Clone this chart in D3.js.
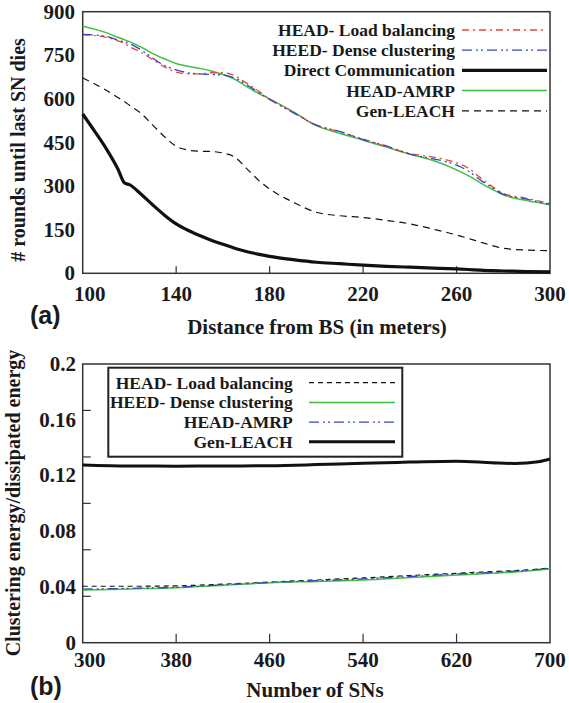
<!DOCTYPE html>
<html>
<head>
<meta charset="utf-8">
<script src="https://cdn.jsdelivr.net/npm/d3@7"></script>
</head>
<body style="margin:0">
<script>
// DATA - TOP CHART (a)
const distance = [100, 105, 110, 115, 118, 120, 125, 130, 135, 140, 145, 150, 155, 160, 165, 170, 175, 180, 190, 200, 210, 220, 230, 240, 250, 260, 265, 270, 275, 280, 290, 300];
const headLoad = [820, 818, 812, 800, 790, 780, 760, 735, 710, 692, 686, 686, 690, 690, 680, 655, 628, 600, 555, 510, 486, 462, 436, 412, 400, 380, 362, 330, 300, 275, 258, 240];
const heedDense = [822, 820, 815, 803, 795, 790, 768, 740, 715, 700, 690, 686, 684, 682, 672, 650, 624, 598, 553, 510, 488, 460, 438, 410, 394, 372, 352, 322, 296, 272, 255, 237];
const direct = [548, 490, 430, 360, 310, 305, 272, 235, 200, 170, 148, 130, 114, 100, 86, 75, 66, 58, 47, 38, 33, 28, 24, 21, 18, 15, 13, 11, 9, 8, 6, 5];
const headAmrp = [850, 840, 828, 812, 803, 797, 778, 756, 738, 722, 712, 705, 696, 684, 668, 643, 620, 600, 556, 508, 482, 458, 434, 410, 388, 356, 336, 312, 290, 270, 250, 236];
const genLeach = [672, 652, 630, 605, 590, 578, 550, 510, 470, 437, 424, 420, 419, 414, 400, 362, 322, 290, 245, 210, 198, 192, 182, 170, 152, 132, 120, 108, 96, 86, 80, 78];
const yTicksA = [0, 150, 300, 450, 600, 750, 900];
const xTicksA = [100, 140, 180, 220, 260, 300];

// DATA - BOTTOM CHART (b)
const nodes = [300, 340, 380, 420, 460, 500, 540, 580, 620, 650, 670, 690, 700];
const bLoad = [0.0405, 0.0405, 0.0408, 0.042, 0.0435, 0.045, 0.0465, 0.0482, 0.0498, 0.051, 0.0518, 0.0528, 0.0535];
const bDense = [0.0378, 0.0386, 0.0395, 0.0412, 0.043, 0.044, 0.045, 0.0468, 0.0485, 0.0498, 0.0507, 0.0522, 0.053];
const bAmrp = [0.0385, 0.039, 0.0398, 0.0415, 0.0432, 0.0445, 0.0458, 0.0475, 0.0493, 0.0505, 0.0514, 0.0526, 0.0533];
const bLeach = [0.1275, 0.1268, 0.1267, 0.1268, 0.127, 0.1278, 0.1288, 0.1296, 0.1303, 0.1292, 0.1286, 0.1298, 0.1318];
const yTicksB = [0, 0.04, 0.08, 0.12, 0.16, 0.2];
const yMarksB = [0.0333, 0.0667, 0.1, 0.1333, 0.1667];
const xTicksB = [300, 380, 460, 540, 620, 700];

const svg = d3.select("body").append("svg")
    .attr("width", 569)
    .attr("height", 703);

//COLORS
const RED = "#e8443c";
const BLUE = "#3646b8";
const GREEN = "#3fbf3f";
const BLACK = "#111";

// every label: bold serif, same as the figure
const label = (g, x, y, txt, size, anchor) => g.append("text")
    .attr("x", x).attr("y", y)
    .attr("text-anchor", anchor)
    .attr("font-family", "Liberation Serif")
    .attr("font-weight", "bold")
    .attr("font-size", size)
    .attr("fill", "#1a1a1a")
    .text(txt);

// ---------- CHART (a) ----------
const xA = d3.scaleLinear().domain([100, 300]).range([82.7, 550]);
const yA = d3.scaleLinear().domain([0, 900]).range([273.3, 11.7]);

const gA = svg.append("g");

gA.append("rect")
    .attr("x", xA(100)).attr("y", yA(900))
    .attr("width", xA(300) - xA(100)).attr("height", yA(0) - yA(900))
    .attr("fill", "none").attr("stroke", "#333").attr("stroke-width", 1.5);

// inward ticks on bottom
gA.selectAll(".xtick").data(xTicksA.slice(1, -1)).join("line")
    .attr("x1", d => xA(d)).attr("x2", d => xA(d))
    .attr("y1", yA(0)).attr("y2", yA(0) - 7)
    .attr("stroke", "#333").attr("stroke-width", 1.2);

xTicksA.forEach((d, i) => label(gA, xA(d) + (i === 0 ? 7 : 0), 301, d, 21, "middle"));
yTicksA.forEach(d => label(gA, 75, yA(d) + 7, d, 21, "end"));

label(gA, 0, 0, "# rounds until last SN dies", 20, "middle")
    .attr("x", null).attr("y", null)
    .attr("transform", "translate(25,150) rotate(-90)");

label(gA, 317, 334, "Distance from BS (in meters)", 21, "middle");

svg.append("text")
    .attr("x", 30).attr("y", 324)
    .attr("font-family", "Liberation Sans").attr("font-weight", "bold")
    .attr("font-size", 25).attr("fill", "#1a1a1a")
    .text("(a)");

const seriesA = [
    { name: "HEAD- Load balancing", values: headLoad, color: RED, width: 1.3, dash: "7,4,2,4" },
    { name: "HEED- Dense clustering", values: heedDense, color: BLUE, width: 1.3, dash: "10,4,2,3,2,4" },
    { name: "Direct Communication", values: direct, color: BLACK, width: 3.2, dash: null },
    { name: "HEAD-AMRP", values: headAmrp, color: GREEN, width: 1.5, dash: null },
    { name: "Gen-LEACH", values: genLeach, color: BLACK, width: 1.2, dash: "7,5" }
];

const lineA = d3.line()
    .x((d, i) => xA(distance[i]))
    .y(d => yA(d))
    .curve(d3.curveMonotoneX);

[4, 2, 3, 0, 1].forEach(k => {
    const s = seriesA[k];
    gA.append("path")
        .attr("d", lineA(s.values))
        .attr("fill", "none")
        .attr("stroke", s.color)
        .attr("stroke-width", s.width)
        .attr("stroke-dasharray", s.dash);
});

// LEGEND (a)
const legA = gA.append("g");
seriesA.forEach((s, i) => {
    const y = 30 + i * 20.2;
    label(legA, 455, y + 6, s.name, 17.5, "end");
    legA.append("line")
        .attr("x1", 462).attr("x2", 547)
        .attr("y1", y).attr("y2", y)
        .attr("stroke", s.color)
        .attr("stroke-width", s.width)
        .attr("stroke-dasharray", s.dash);
});

// ---------- CHART (b) ----------
const xB = d3.scaleLinear().domain([300, 700]).range([82.7, 550]);
const yB = d3.scaleLinear().domain([0, 0.2]).range([642.7, 364]);

const gB = svg.append("g");

gB.append("rect")
    .attr("x", xB(300)).attr("y", yB(0.2))
    .attr("width", xB(700) - xB(300)).attr("height", yB(0) - yB(0.2))
    .attr("fill", "none").attr("stroke", "#333").attr("stroke-width", 1.5);

gB.selectAll(".xtick").data(xTicksB.slice(1, -1)).join("line")
    .attr("x1", d => xB(d)).attr("x2", d => xB(d))
    .attr("y1", yB(0)).attr("y2", yB(0) - 9)
    .attr("stroke", "#333").attr("stroke-width", 1.2);

gB.selectAll(".ytick").data(yMarksB).join("line")
    .attr("x1", xB(300)).attr("x2", xB(300) + 8)
    .attr("y1", d => yB(d)).attr("y2", d => yB(d))
    .attr("stroke", "#333").attr("stroke-width", 1.2);

xTicksB.forEach((d, i) => label(gB, xB(d) + (i === 0 ? 7 : 0), 667, d, 21, "middle"));
yTicksB.forEach(d => label(gB, 76, yB(d) + 7, d, 21, "end"));

label(gB, 0, 0, "Clustering energy/dissipated energy", 20, "middle")
    .attr("x", null).attr("y", null)
    .attr("transform", "translate(20,503) rotate(-90)");

label(gB, 315, 697, "Number of SNs", 21, "middle");

svg.append("text")
    .attr("x", 30).attr("y", 695)
    .attr("font-family", "Liberation Sans").attr("font-weight", "bold")
    .attr("font-size", 25).attr("fill", "#1a1a1a")
    .text("(b)");

const seriesB = [
    { name: "HEAD- Load balancing", values: bLoad, color: BLACK, width: 1.2, dash: "5,4" },
    { name: "HEED- Dense clustering", values: bDense, color: GREEN, width: 1.5, dash: null },
    { name: "HEAD-AMRP", values: bAmrp, color: BLUE, width: 1.3, dash: "10,4,2,3,2,4" },
    { name: "Gen-LEACH", values: bLeach, color: BLACK, width: 3, dash: null }
];

const lineB = d3.line()
    .x((d, i) => xB(nodes[i]))
    .y(d => yB(d))
    .curve(d3.curveMonotoneX);

seriesB.forEach(s => {
    gB.append("path")
        .attr("d", lineB(s.values))
        .attr("fill", "none")
        .attr("stroke", s.color)
        .attr("stroke-width", s.width)
        .attr("stroke-dasharray", s.dash);
});

// LEGEND (b)
const legB = gB.append("g");
legB.append("rect")
    .attr("x", 108.3).attr("y", 367.7)
    .attr("width", 294).attr("height", 89)
    .attr("fill", "#fff").attr("stroke", "#222").attr("stroke-width", 2);
seriesB.forEach((s, i) => {
    const y = 382.7 + i * 19.7;
    label(legB, 292.7, y + 6, s.name, 17.5, "end");
    legB.append("line")
        .attr("x1", 309).attr("x2", 395)
        .attr("y1", y).attr("y2", y)
        .attr("stroke", s.color)
        .attr("stroke-width", s.width)
        .attr("stroke-dasharray", s.dash);
});
</script>
</body>
</html>
